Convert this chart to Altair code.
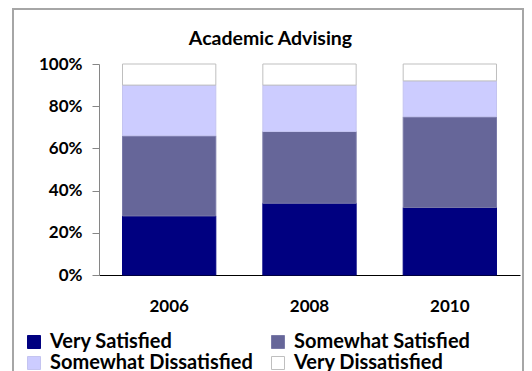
import altair as alt
import pandas as pd

title_text = ["Academic Advising"]
years = ["2006", "2008", "2010"]
categories = ["Very Satisfied", "Somewhat Satisfied", "Somewhat Dissatisfied", "Very Dissatisfied"]
very_satisfied = [28, 34, 32]
somewhat_satisfied = [38, 34, 43]
somewhat_dissatisfied = [24, 22, 17]
very_dissatisfied = [10, 10, 8]

fills = ["#000080", "#666699", "#CCCCFF", "#FFFFFF"]
strokes = ["#000080", "#7A7AA8", "#C4C4F0", "#BFBFBF"]

series = [very_satisfied, somewhat_satisfied, somewhat_dissatisfied, very_dissatisfied]
rows = []
for ci, (cat, vals) in enumerate(zip(categories, series)):
    for y, v in zip(years, vals):
        rows.append({"Year": y, "Rating": cat, "order": ci, "value": v / 100})
df = pd.DataFrame(rows)

FONT = "Lato"

bars = alt.Chart(df).mark_bar(strokeWidth=1).encode(
    x=alt.X("Year:N", sort=years,
            scale=alt.Scale(paddingInner=0.335, paddingOuter=0.1675),
            axis=alt.Axis(title=None, labelAngle=0, ticks=False, domainColor="#000000",
                          labelFont=FONT, labelFontSize=17, labelFontWeight="bold",
                          labelColor="#000000", labelPadding=23)),
    y=alt.Y("value:Q", stack="zero", scale=alt.Scale(domain=[0, 1]),
            axis=alt.Axis(title=None, values=[0, 0.2, 0.4, 0.6, 0.8, 1.0], format=".0%",
                          grid=False, domainColor="#868686", tickColor="#868686", tickSize=7,
                          labelFont=FONT, labelFontSize=17, labelFontWeight="bold",
                          labelColor="#000000", labelPadding=10)),
    color=alt.Color("Rating:N", sort=categories, title=None,
                    scale=alt.Scale(domain=categories, range=fills),
                    legend=alt.Legend(orient="none", legendX=-75, legendY=268, columns=2,
                                      direction="horizontal",
                                      symbolType="square", symbolSize=169, symbolStrokeWidth=1,
                                      labelFont=FONT, labelFontSize=20, labelFontWeight="bold",
                                      labelColor="#000000", labelOffset=6, labelLimit=400,
                                      rowPadding=1, columnPadding=15, padding=0)),
    stroke=alt.Stroke("Rating:N", sort=categories, title=None,
                      scale=alt.Scale(domain=categories, range=strokes)),
    order=alt.Order("order:Q", sort="ascending"),
)

frame = alt.Chart(alt.Data(values=[{}])).mark_rect(
    fill=None, stroke="#A6A6A6", strokeWidth=2
).encode(
    x=alt.value(-86), x2=alt.value(424), y=alt.value(-55), y2=alt.value(420)
)

title = alt.Chart(pd.DataFrame({"t": title_text})).mark_text(
    font=FONT, fontSize=19.5, fontWeight="bold", color="#000000",
    align="center", baseline="alphabetic"
).encode(text="t:N", x=alt.value(171.5), y=alt.value(-19))

chart = alt.layer(frame, bars, title).properties(
    width=421, height=211,
    padding={"left": 91, "top": 56, "right": 4, "bottom": 97},
    autosize=alt.AutoSizeParams(type="none"),
).configure_view(stroke=None)

chart.save("out.html", embed_options={"renderer": "svg", "actions": False})
